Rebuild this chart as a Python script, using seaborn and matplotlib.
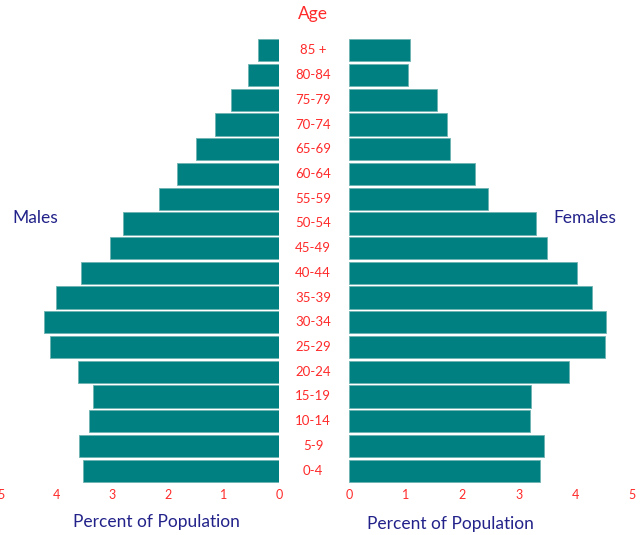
import pandas as pd
import matplotlib
matplotlib.use("Agg")
import matplotlib.pyplot as plt
import matplotlib.transforms as mtransforms
import seaborn as sns

# age groups, top to bottom
ages = ["85 +", "80-84", "75-79", "70-74", "65-69", "60-64", "55-59", "50-54", "45-49",
        "40-44", "35-39", "30-34", "25-29", "20-24", "15-19", "10-14", "5-9", "0-4"]
males = [0.37, 0.55, 0.87, 1.16, 1.49, 1.84, 2.15, 2.81, 3.04,
         3.56, 4.01, 4.23, 4.11, 3.61, 3.34, 3.42, 3.59, 3.53]
females = [1.08, 1.05, 1.56, 1.73, 1.78, 2.23, 2.45, 3.30, 3.49,
           4.03, 4.30, 4.54, 4.53, 3.89, 3.21, 3.20, 3.45, 3.38]
ticks = [0, 1, 2, 3, 4, 5]

teal = "#008080"
red = "#ff2a2a"
navy = "#22228a"

df = pd.DataFrame({"age": ages, "male": males, "female": females})

sns.set_style("white")
plt.rcParams["font.family"] = ["Lato", "DejaVu Sans"]

fig = plt.figure(figsize=(6.4, 5.35), dpi=100)
ax_m = fig.add_axes([1 / 640, 52 / 535, 278 / 640, 445 / 535])
ax_f = fig.add_axes([349 / 640, 52 / 535, 283 / 640, 445 / 535])

sns.barplot(data=df, x="male", y="age", order=ages, color=teal, width=0.9,
            edgecolor="#6fb3b3", linewidth=0.6, saturation=1, ax=ax_m)
sns.barplot(data=df, x="female", y="age", order=ages, color=teal, width=0.9,
            edgecolor="#6fb3b3", linewidth=0.6, saturation=1, ax=ax_f)

ax_m.set_xlim(5, 0)
ax_f.set_xlim(0, 5)

for ax in (ax_m, ax_f):
    sns.despine(ax=ax, left=True, bottom=True)
    ax.set_xticks(ticks)
    ax.set_xticklabels([str(t) for t in ticks], color=red, fontsize=9)
    ax.tick_params(axis="x", length=0, pad=4)
    ax.set_yticks([])
    ax.set_ylabel("")
    ax.set_xlabel("Percent of Population", color=navy, fontsize=12.5)

ax_m.xaxis.set_label_coords(0.56, -0.07)
ax_f.xaxis.set_label_coords(0.36, -0.075)

# age labels in the middle
trans = mtransforms.blended_transform_factory(fig.transFigure, ax_m.transData)
for i, a in enumerate(ages):
    fig.text(313 / 640, i, a, transform=trans, ha="center", va="center",
             color=red, fontsize=9.5)

fig.text(313 / 640, 1 - 14 / 535, "Age", ha="center", va="center", color=red, fontsize=12.5)
fig.text(35 / 640, 1 - 218 / 535, "Males", ha="center", va="center", color=navy, fontsize=12.5)
fig.text(585 / 640, 1 - 218 / 535, "Females", ha="center", va="center", color=navy, fontsize=12.5)

fig.savefig("out.png", dpi=100)
